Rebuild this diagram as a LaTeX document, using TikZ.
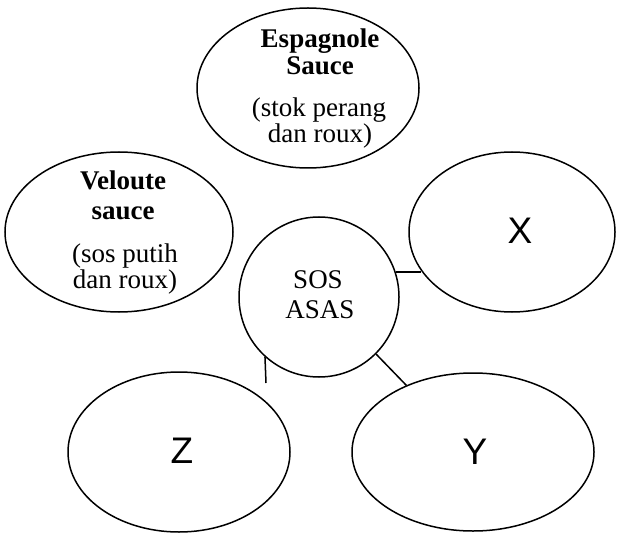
\documentclass[tikz,border=0pt]{standalone}
\usepackage{fontspec}
\setmainfont{Liberation Serif}
\newfontfamily\lsans{Liberation Sans}
\usetikzlibrary{shapes.geometric}
\begin{document}
\begin{tikzpicture}[x=1pt,y=-1pt, line width=1.5pt,
  oval/.style={draw, ellipse, inner sep=0pt},
  hub/.style={draw, circle, inner sep=0pt, minimum size=160pt},
  ln/.style={anchor=base, inner sep=0pt, font=\fontsize{27}{30}\selectfont},
  bln/.style={anchor=base, inner sep=0pt, font=\fontsize{27}{30}\selectfont\bfseries},
  letter/.style={inner sep=0pt, font=\lsans\fontsize{37}{40}\selectfont}]
\useasboundingbox (0,0) rectangle (617,534);
% shapes
\node[oval, minimum width=222pt, minimum height=160pt] (esp) at (308,88) {};
\node[oval, minimum width=228pt, minimum height=160pt] (vel) at (119,232) {};
\node[oval, minimum width=206pt, minimum height=160pt] (xo) at (512,232) {};
\node[oval, minimum width=242pt, minimum height=158pt] (yo) at (473,452) {};
\node[oval, minimum width=222pt, minimum height=160pt] (zo) at (179,452) {};
\node[hub] (sos) at (319,297) {};
% texts
\node[bln] (e1) at (320,48) {Espagnole};
\node[bln] (e2) at (320,75) {Sauce};
\node[ln] (e3) at (319,117) {(stok perang};
\node[ln] (e4) at (320,143) {dan roux)};
\node[bln] (v1) at (123,190) {Veloute};
\node[bln] (v2) at (123,220) {sauce};
\node[ln] (v3) at (125,262) {(sos putih};
\node[ln] (v4) at (125,288) {dan roux)};
\node[ln] (s1) at (318,288) {SOS};
\node[ln] (s2) at (320,318) {ASAS};
\node[letter] (xl) at (520,231) {X};
\node[letter] (yl) at (475,452) {Y};
\node[letter] (zl) at (182,451) {Z};
% connectors
\coordinate (zstub) at (266,383);
\draw (sos.18) -- (sos.18 -| xo.203.5);
\draw (sos.-45) -- (yo.135);
\draw (sos.228.5) -- (zstub);
\end{tikzpicture}
\end{document}
